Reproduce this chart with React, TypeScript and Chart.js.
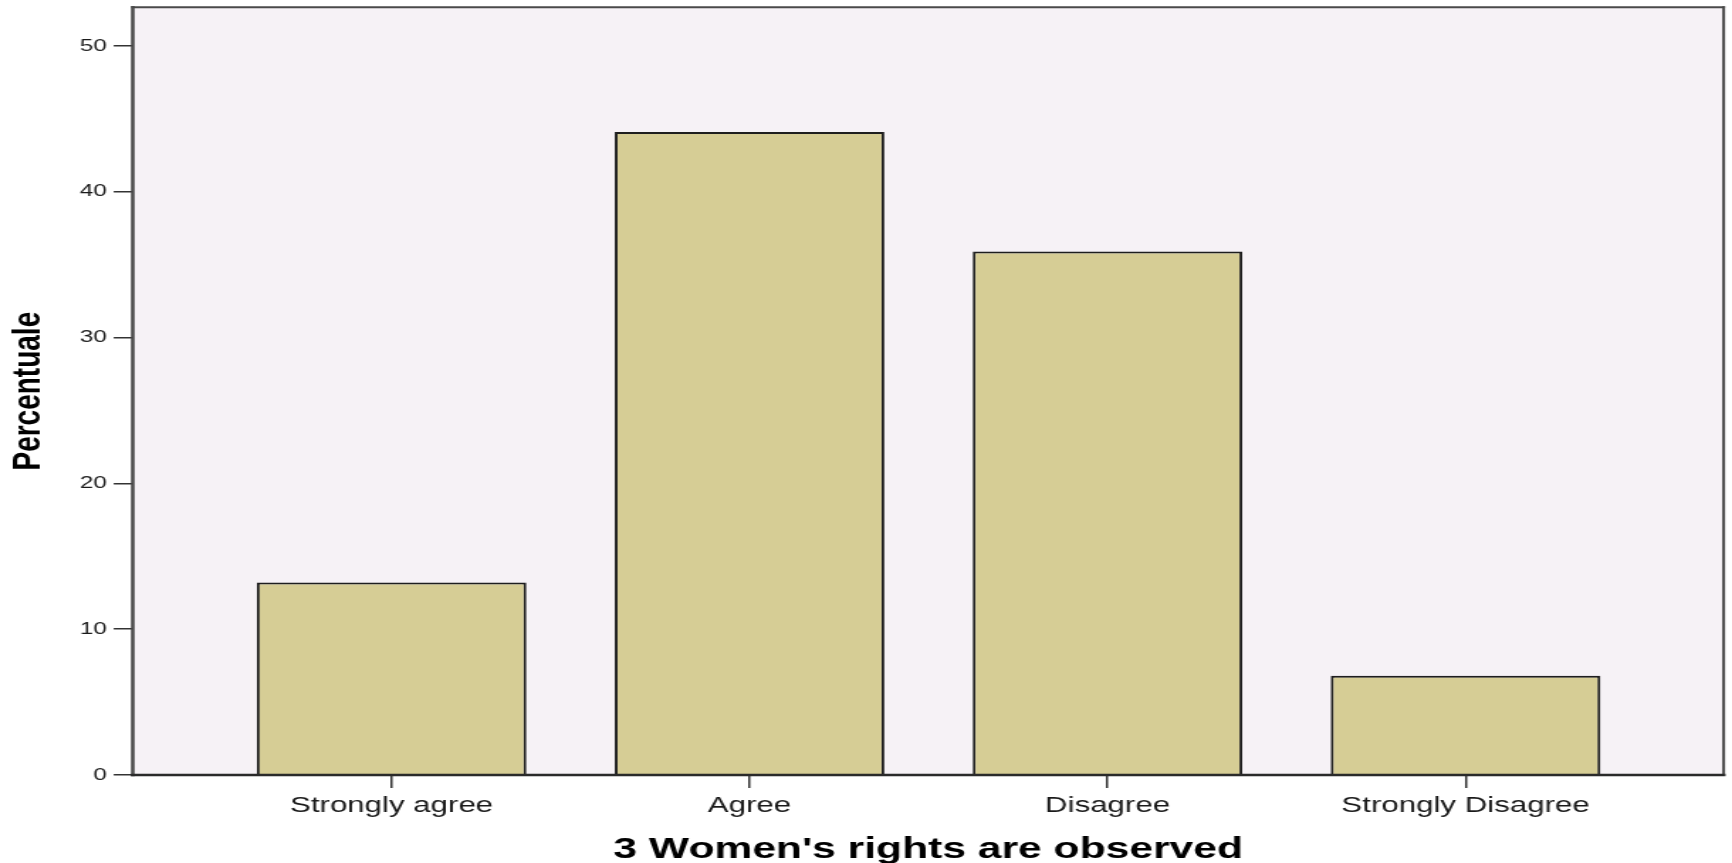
import React, { useEffect, useRef } from "react";
import { Chart, registerables } from "chart.js";

Chart.register(...registerables);

const categories = ["Strongly agree", "Agree", "Disagree", "Strongly Disagree"];
const percentValues = [13.2, 44.1, 35.9, 6.8];
const yTickValues = [0, 10, 20, 30, 40, 50];
const xAxisTitle = "3 Women's rights are observed";
const yAxisTitle = "Percentuale";

const FULL_W = 1732;
const FULL_H = 863;
const STRETCH = 1.42;
const INNER_W = Math.round(FULL_W / STRETCH);
const FONT = "'Liberation Sans', Arial, sans-serif";

const PLOT_BG = "#F6F2F6";
const BAR_FILL = "#D6CD95";
const FRAME = "#4a4a4a";

const plotFrame = {
  id: "plotFrame",
  beforeDraw(chart: any) {
    const { ctx, chartArea: a } = chart;
    ctx.save();
    ctx.fillStyle = "#ffffff";
    ctx.fillRect(0, 0, chart.width, chart.height);
    ctx.fillStyle = PLOT_BG;
    ctx.fillRect(a.left, a.top, a.right - a.left, a.bottom - a.top);
    ctx.restore();
  },
  afterDraw(chart: any) {
    const { ctx, chartArea: a } = chart;
    ctx.save();
    ctx.strokeStyle = FRAME;
    ctx.lineCap = "square";
    ctx.lineWidth = 2;
    ctx.beginPath();
    ctx.moveTo(a.left, a.top);
    ctx.lineTo(a.right, a.top);
    ctx.stroke();
    ctx.lineWidth = 2;
    ctx.beginPath();
    ctx.moveTo(a.right, a.top);
    ctx.lineTo(a.right, a.bottom);
    ctx.stroke();
    ctx.lineWidth = 2.5;
    ctx.beginPath();
    ctx.moveTo(a.left, a.top);
    ctx.lineTo(a.left, a.bottom);
    ctx.stroke();
    ctx.strokeStyle = "#2a2a2a";
    ctx.lineWidth = 2.6;
    ctx.beginPath();
    ctx.moveTo(a.left, a.bottom);
    ctx.lineTo(a.right, a.bottom);
    ctx.stroke();
    ctx.restore();
  },
};

export default function App() {
  const canvasRef = useRef<HTMLCanvasElement | null>(null);

  useEffect(() => {
    const canvas = canvasRef.current;
    if (!canvas) return;
    const chart = new Chart(canvas, {
      type: "bar",
      data: {
        datasets: [
          {
            data: percentValues.map((v, i) => ({ x: i, y: v })),
            backgroundColor: BAR_FILL,
            borderColor: "#1e1e1e",
            borderWidth: 2,
            borderSkipped: "start",
            barPercentage: 0.753,
            categoryPercentage: 1,
          },
        ],
      },
      options: {
        animation: false,
        responsive: false,
        devicePixelRatio: 1,
        layout: { padding: { top: 7.3, right: 5.9, left: 0, bottom: 0 } },
        plugins: {
          legend: { display: false },
          tooltip: { enabled: false },
        },
        scales: {
          x: {
            type: "linear",
            offset: false,
            min: -0.723,
            max: 3.721,
            afterBuildTicks: (s: any) => {
              s.ticks = categories.map((_, i) => ({ value: i }));
            },
            afterFit: (s: any) => {
              s.height = 88;
              s.paddingLeft = 0;
              s.paddingRight = 0;
            },
            grid: {
              display: true,
              offset: false,
              drawOnChartArea: false,
              drawTicks: true,
              tickLength: 13,
              color: "#333",
              lineWidth: 1.5,
            },
            border: { display: false },
            ticks: {
              autoSkip: false,
              maxRotation: 0,
              padding: 5,
              color: "#1a1a1a",
              font: { family: FONT, size: 22, lineHeight: 1.2 },
              callback: (v: any) => categories[v] ?? "",
            },
            title: {
              display: true,
              text: xAxisTitle,
              color: "#000",
              font: { family: FONT, size: 30, weight: "bold", lineHeight: 0.9 },
              padding: { top: 0, bottom: 0 },
            },
          },
          y: {
            min: 0,
            max: 52.65,
            afterBuildTicks: (s: any) => {
              s.ticks = yTickValues.map((v) => ({ value: v }));
            },
            afterFit: (s: any) => {
              s.width = 93.5;
              s.paddingTop = 0;
              s.paddingBottom = 0;
            },
            grid: {
              display: true,
              drawOnChartArea: false,
              drawTicks: true,
              tickLength: 13.4,
              color: "#333",
              lineWidth: 1.5,
            },
            border: { display: false },
            ticks: {
              padding: 5,
              color: "#1a1a1a",
              font: { family: FONT, size: 17, lineHeight: 1.2 },
            },
            title: {
              display: true,
              text: yAxisTitle,
              color: "#000",
              font: { family: FONT, size: 28, weight: "bold", lineHeight: 1.2 },
              padding: { top: 3, bottom: 0 },
            },
          },
        },
      },
      plugins: [plotFrame],
    } as any);
    return () => chart.destroy();
  }, []);

  return (
    <div
      style={{
        position: "fixed",
        left: 0,
        top: 0,
        width: FULL_W,
        height: FULL_H,
        background: "#fff",
        overflow: "hidden",
      }}
    >
      <canvas
        ref={canvasRef}
        width={INNER_W}
        height={FULL_H}
        style={{ width: `${FULL_W}px`, height: `${FULL_H}px`, display: "block" }}
      />
    </div>
  );
}
